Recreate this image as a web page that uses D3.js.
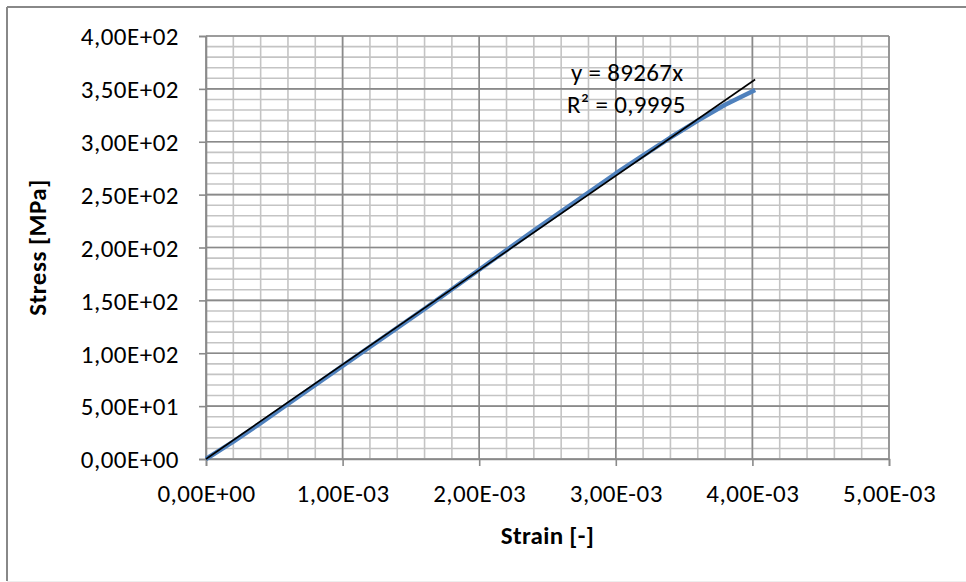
<!DOCTYPE html>
<html>
<head>
<meta charset="utf-8">
<script src="https://cdn.jsdelivr.net/npm/d3@7"></script>
<style>
  body { margin: 0; background: #fff; }
  text { font-family: Carlito, Calibri, Lato, sans-serif; fill: #000; }
</style>
</head>
<body>
<script>
var strain = [0, 0.0002, 0.0004, 0.0006, 0.0008, 0.0010, 0.0012, 0.0014, 0.0016, 0.0018,
              0.0020, 0.0022, 0.0024, 0.0026, 0.0028, 0.0030, 0.0032, 0.0034, 0.0036, 0.0038, 0.00402];
var stress = [0, 16.5, 34, 52, 70, 88, 106, 124, 142, 160.5,
              179, 197.5, 216, 234, 252, 270, 287, 304, 320, 335, 349];
var slope = 89267;
var xTicks = [0, 0.001, 0.002, 0.003, 0.004, 0.005];
var xTickLabels = ["0,00E+00", "1,00E-03", "2,00E-03", "3,00E-03", "4,00E-03", "5,00E-03"];
var yTicks = [0, 50, 100, 150, 200, 250, 300, 350, 400];
var yTickLabels = ["0,00E+00", "5,00E+01", "1,00E+02", "1,50E+02", "2,00E+02",
                   "2,50E+02", "3,00E+02", "3,50E+02", "4,00E+02"];
var eqLines = ["y = 89267x", "R² = 0,9995"];

var W = 966, H = 582;
var margin = { top: 36, right: 77, bottom: 123, left: 206 };
var width = W - margin.left - margin.right;
var height = H - margin.top - margin.bottom;
var fontSize = "25px";

var svg = d3.select("body").append("svg")
    .attr("width", W)
    .attr("height", H);

// chart area border (top/left visible, faint bottom)
svg.append("line").attr("x1", 7).attr("y1", 7).attr("x2", W).attr("y2", 7)
    .attr("stroke", "#888").attr("stroke-width", 2);
svg.append("line").attr("x1", 7).attr("y1", 7).attr("x2", 7).attr("y2", H - 1)
    .attr("stroke", "#888").attr("stroke-width", 2);
svg.append("line").attr("x1", 7).attr("y1", H - 0.5).attr("x2", W).attr("y2", H - 0.5)
    .attr("stroke", "#eee").attr("stroke-width", 1);

var x = d3.scaleLinear().domain([0, 0.005]).range([0, width]);
var y = d3.scaleLinear().domain([0, 400]).range([height, 0]);

var g = svg.append("g")
    .attr("transform", "translate(" + margin.left + "," + margin.top + ")");

// minor grid
var xMinor = d3.range(0, 26).map(function (i) { return i * 0.0002; });
var yMinor = d3.range(0, 41).map(function (i) { return i * 10; });

g.selectAll(".vminor").data(xMinor).enter().append("line")
    .attr("x1", function (d) { return x(d); }).attr("x2", function (d) { return x(d); })
    .attr("y1", 0).attr("y2", height)
    .attr("stroke", "#c4c4c4").attr("stroke-width", 1.6);
g.selectAll(".hminor").data(yMinor).enter().append("line")
    .attr("y1", function (d) { return y(d); }).attr("y2", function (d) { return y(d); })
    .attr("x1", 0).attr("x2", width)
    .attr("stroke", "#c4c4c4").attr("stroke-width", 1.6);

// major grid
g.selectAll(".vmajor").data(xTicks).enter().append("line")
    .attr("x1", function (d) { return x(d); }).attr("x2", function (d) { return x(d); })
    .attr("y1", 0).attr("y2", height)
    .attr("stroke", "#8a8a8a").attr("stroke-width", 1.6);
g.selectAll(".hmajor").data(yTicks).enter().append("line")
    .attr("y1", function (d) { return y(d); }).attr("y2", function (d) { return y(d); })
    .attr("x1", 0).attr("x2", width)
    .attr("stroke", "#8a8a8a").attr("stroke-width", 1.6);

// axes
var xAxis = d3.axisBottom(x).tickValues(xTicks)
    .tickFormat(function (d, i) { return xTickLabels[i]; })
    .tickSize(7).tickPadding(18);
var yAxis = d3.axisLeft(y).tickValues(yTicks)
    .tickFormat(function (d, i) { return yTickLabels[i]; })
    .tickSize(7).tickPadding(20);

var gX = g.append("g").attr("transform", "translate(0," + height + ")").call(xAxis);
var gY = g.append("g").call(yAxis);
[gX, gY].forEach(function (a) {
    a.select(".domain").attr("stroke", "#8a8a8a").attr("stroke-width", 1.6);
    a.selectAll(".tick line").attr("stroke", "#8a8a8a").attr("stroke-width", 1.6);
    a.selectAll(".tick text").style("font-size", fontSize)
        .style("letter-spacing", "0.5px")
        .style("font-family", "Carlito, Calibri, Lato, sans-serif");
});
gY.selectAll(".tick text").attr("dy", "0.35em");

// data line
var line = d3.line()
    .x(function (d, i) { return x(strain[i]); })
    .y(function (d) { return y(d); });

g.append("path")
    .datum(stress)
    .attr("fill", "none")
    .attr("stroke", "#4f81bd")
    .attr("stroke-width", 4.5)
    .attr("stroke-linejoin", "round")
    .attr("d", line);

// linear trendline through origin
var xEnd = strain[strain.length - 1];
g.append("line")
    .attr("x1", x(0)).attr("y1", y(0))
    .attr("x2", x(xEnd)).attr("y2", y(slope * xEnd))
    .attr("stroke", "#000").attr("stroke-width", 1.6);

// trendline label
g.selectAll(".eq").data(eqLines).enter().append("text")
    .attr("x", function (d, i) { return i === 0 ? 365 : 361; })
    .attr("y", function (d, i) { return 45 + i * 32; })
    .style("font-size", fontSize)
    .style("letter-spacing", "0.3px")
    .text(function (d) { return d; });

// axis titles
svg.append("text")
    .attr("x", margin.left + width / 2)
    .attr("y", 544)
    .attr("text-anchor", "middle")
    .style("font-size", fontSize)
    .style("font-weight", "bold")
    .style("letter-spacing", "0.3px")
    .text("Strain [-]");

svg.append("text")
    .attr("transform", "translate(46," + (margin.top + height / 2) + ") rotate(-90)")
    .attr("text-anchor", "middle")
    .style("font-size", fontSize)
    .style("font-weight", "bold")
    .style("letter-spacing", "0.5px")
    .text("Stress [MPa]");
</script>
</body>
</html>
